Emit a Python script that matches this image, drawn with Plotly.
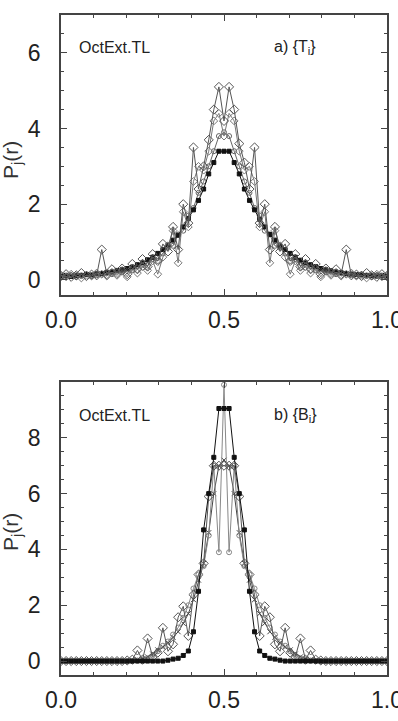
import plotly.graph_objects as go

# grid of r values (65 points, step 1/64)
R = [round(i / 64, 5) for i in range(65)]

# ---------------- panel a) {T_i} ----------------
T_diam1 = [0.10,0.15,0.08,0.12,0.18,0.10,0.14,0.12,0.80,0.15,
           0.28,0.18,0.30,0.15,0.42,0.28,0.55,0.35,0.68,0.50,
           0.95,0.75,1.40,0.80,2.00,1.50,3.50,2.40,3.00,3.70,
           4.50,5.10,4.20,5.10,4.50,3.60,3.10,2.40,3.50,1.50,
           2.00,0.80,1.40,0.75,0.95,0.50,0.68,0.35,0.55,0.28,
           0.42,0.15,0.30,0.18,0.28,0.15,0.80,0.12,0.14,0.10,
           0.18,0.12,0.08,0.15,0.10]
T_diam2 = [0.12,0.08,0.15,0.10,0.05,0.12,0.10,0.18,0.15,0.10,
           0.20,0.12,0.25,0.08,0.30,0.18,0.35,0.25,0.50,0.15,
           0.60,0.90,1.30,0.45,1.80,1.40,2.60,3.00,2.90,3.40,
           4.20,4.40,3.80,4.40,4.20,3.40,2.90,3.00,2.60,1.40,
           1.80,0.45,1.30,0.90,0.60,0.15,0.50,0.25,0.35,0.18,
           0.30,0.08,0.25,0.12,0.20,0.10,0.15,0.18,0.10,0.12,
           0.05,0.10,0.15,0.08,0.12]
T_sq = [0.10,0.12,0.09,0.11,0.12,0.14,0.13,0.16,0.17,0.20,
        0.21,0.25,0.27,0.30,0.34,0.40,0.45,0.53,0.60,0.70,
        0.80,0.92,1.05,1.18,1.40,1.62,1.85,2.10,2.40,2.80,
        3.10,3.40,3.40,3.40,3.10,2.80,2.40,2.10,1.85,1.60,
        1.40,1.20,1.05,0.90,0.80,0.70,0.60,0.52,0.45,0.40,
        0.35,0.30,0.27,0.24,0.21,0.19,0.17,0.15,0.14,0.13,
        0.12,0.11,0.10,0.12,0.10]
T_circ = [0.08,0.10,0.12,0.08,0.10,0.15,0.10,0.12,0.14,0.18,
          0.15,0.22,0.20,0.28,0.25,0.35,0.40,0.38,0.55,0.50,
          0.70,0.85,0.90,1.20,1.30,1.70,1.90,2.30,2.60,3.00,
          3.40,3.80,3.90,3.80,3.40,3.00,2.60,2.30,1.90,1.70,
          1.30,1.20,0.90,0.85,0.70,0.50,0.55,0.38,0.40,0.35,
          0.25,0.28,0.20,0.22,0.15,0.18,0.14,0.12,0.10,0.15,
          0.10,0.08,0.12,0.10,0.08]

# ---------------- panel b) {B_i} ----------------
B_sq = [0,0,0,0,0,0,0,0,0,0,
        0,0,0,0,0,0,0,0,0,0,
        0,0.03,0.07,0.10,0.20,0.36,1.05,2.50,4.70,6.00,
        7.30,9.05,9.05,9.05,7.30,6.00,4.70,2.50,1.05,0.36,
        0.20,0.10,0.07,0.03,0,0,0,0,0,0,
        0,0,0,0,0,0,0,0,0,0,
        0,0,0,0,0]
B_diam = [0,0,0,0,0,0,0,0,0,0,
          0,0,0,0.02,0.05,0.38,0.05,0.81,0.15,0.30,
          1.19,0.35,0.60,1.57,1.96,0.90,2.38,3.10,3.50,5.90,
          7.00,7.00,7.00,7.00,7.00,5.90,3.50,3.10,2.38,0.90,
          1.96,1.57,0.60,0.35,1.19,0.30,0.15,0.81,0.05,0.38,
          0.05,0.02,0,0,0,0,0,0,0,0,
          0,0,0,0,0]
B_circ = [0,0,0,0,0,0,0,0,0,0,
          0,0,0,0,0,0.02,0.05,0.10,0.20,0.35,
          0.55,0.70,0.95,1.20,1.55,2.00,2.60,3.10,3.40,4.50,
          7.00,3.90,9.90,3.90,7.00,4.50,3.40,3.10,2.60,2.00,
          1.55,1.20,0.95,0.70,0.55,0.35,0.20,0.10,0.05,0.02,
          0,0,0,0,0,0,0,0,0,0,
          0,0,0,0,0]
B_x = [0,0,0,0,0,0,0,0,0,0,
       0,0,0,0,0.02,0.05,0.08,0.15,0.25,0.40,
       0.50,0.65,0.85,1.05,1.35,1.70,2.20,2.90,3.50,4.60,
       6.00,7.00,7.20,7.00,6.00,4.60,3.50,2.90,2.20,1.70,
       1.35,1.05,0.85,0.65,0.50,0.40,0.25,0.15,0.08,0.05,
       0.02,0,0,0,0,0,0,0,0,0,
       0,0,0,0,0]

X_TICKS = [0.0, 0.5, 1.0]
X_TICK_TEXT = ["0.0", "0.5", "1.0"]
Y_TICKS_A = [0, 2, 4, 6]
Y_TICKS_B = [0, 2, 4, 6, 8]
PANEL_LABELS = ["a) {T<sub>i</sub>}", "b) {B<sub>i</sub>}"]
RUN_LABEL = "OctExt.TL"
Y_TITLE = "P<sub>j</sub>(r)"

W, H = 398, 721
fig = go.Figure()

styles = [
    dict(symbol="diamond-open", size=7, color="#555", lw=1.0),
    dict(symbol="diamond-open", size=6, color="#777", lw=1.0),
    dict(symbol="square", size=4, color="#111", lw=1.0),
    dict(symbol="circle-open", size=5, color="#666", lw=1.0),
]

def add_series(y, st, xa, ya):
    fig.add_trace(go.Scatter(
        x=R, y=y, mode="lines+markers", xaxis=xa, yaxis=ya,
        line=dict(color=st["color"], width=st["lw"]),
        marker=dict(symbol=st["symbol"], size=st["size"], color=st["color"],
                    line=dict(width=1, color=st["color"])),
        showlegend=False, hoverinfo="skip"))

for y, st in zip([T_circ, T_sq, T_diam2, T_diam1], [styles[3], styles[2], styles[1], styles[0]]):
    add_series(y, st, "x", "y")

bst = [dict(symbol="x-thin-open", size=5, color="#444", lw=1.0),
       dict(symbol="circle-open", size=5, color="#888", lw=1.0),
       styles[0], dict(symbol="square", size=4, color="#111", lw=1.0)]
for y, st in zip([B_x, B_circ, B_diam, B_sq], bst):
    add_series(y, st, "x2", "y2")

xd = [61 / W, 387 / W]
top_dom = [1 - 295 / H, 1 - 15 / H]
bot_dom = [1 - 675 / H, 1 - 382 / H]

font_fam = "Liberation Sans, Arial, sans-serif"
axis_common = dict(showline=True, linecolor="#444", linewidth=1.5, mirror="ticks",
                   ticks="inside", ticklen=6, tickwidth=1, tickcolor="#444",
                   showgrid=False, zeroline=False, ticklabeloverflow="allow",
                   automargin=False,
                   tickfont=dict(family=font_fam, size=23, color="#222"))
minor_x = dict(dtick=0.1, tick0=0, ticks="inside", ticklen=3, tickcolor="#444")
minor_y = dict(dtick=0.5, tick0=0, ticks="inside", ticklen=3, tickcolor="#444")

fig.update_layout(
    width=W, height=H, margin=dict(l=0, r=0, t=0, b=0, autoexpand=False),
    paper_bgcolor="white", plot_bgcolor="white",
    xaxis=dict(domain=xd, anchor="y", range=[0, 1], tickvals=X_TICKS, ticktext=X_TICK_TEXT,
               minor=minor_x, ticklabelstandoff=4, **axis_common),
    yaxis=dict(domain=top_dom, anchor="x", range=[-0.4, 7], tickvals=Y_TICKS_A,
               minor=minor_y, ticklabelstandoff=14, **axis_common),
    xaxis2=dict(domain=xd, anchor="y2", range=[0, 1], tickvals=X_TICKS, ticktext=X_TICK_TEXT,
                minor=minor_x, ticklabelstandoff=4, **axis_common),
    yaxis2=dict(domain=bot_dom, anchor="x2", range=[-0.5, 10], tickvals=Y_TICKS_B,
                minor=minor_y, ticklabelstandoff=14, **axis_common),
)

ann_font = dict(family=font_fam, size=16, color="#222")
for yc, lab in [(48, PANEL_LABELS[0]), (415, PANEL_LABELS[1])]:
    fig.add_annotation(x=77 / W, y=1 - yc / H, xref="paper", yref="paper", text=RUN_LABEL,
                       showarrow=False, xanchor="left", yanchor="middle", font=ann_font)
    fig.add_annotation(x=272 / W, y=1 - yc / H, xref="paper", yref="paper", text=lab,
                       showarrow=False, xanchor="left", yanchor="middle", font=ann_font)

for yc in [160, 532]:
    fig.add_annotation(x=12 / W, y=1 - yc / H, xref="paper", yref="paper", text=Y_TITLE,
                       textangle=-90, showarrow=False, xanchor="center", yanchor="middle",
                       font=dict(family=font_fam, size=21, color="#333"))

fig.write_html("out.html")
